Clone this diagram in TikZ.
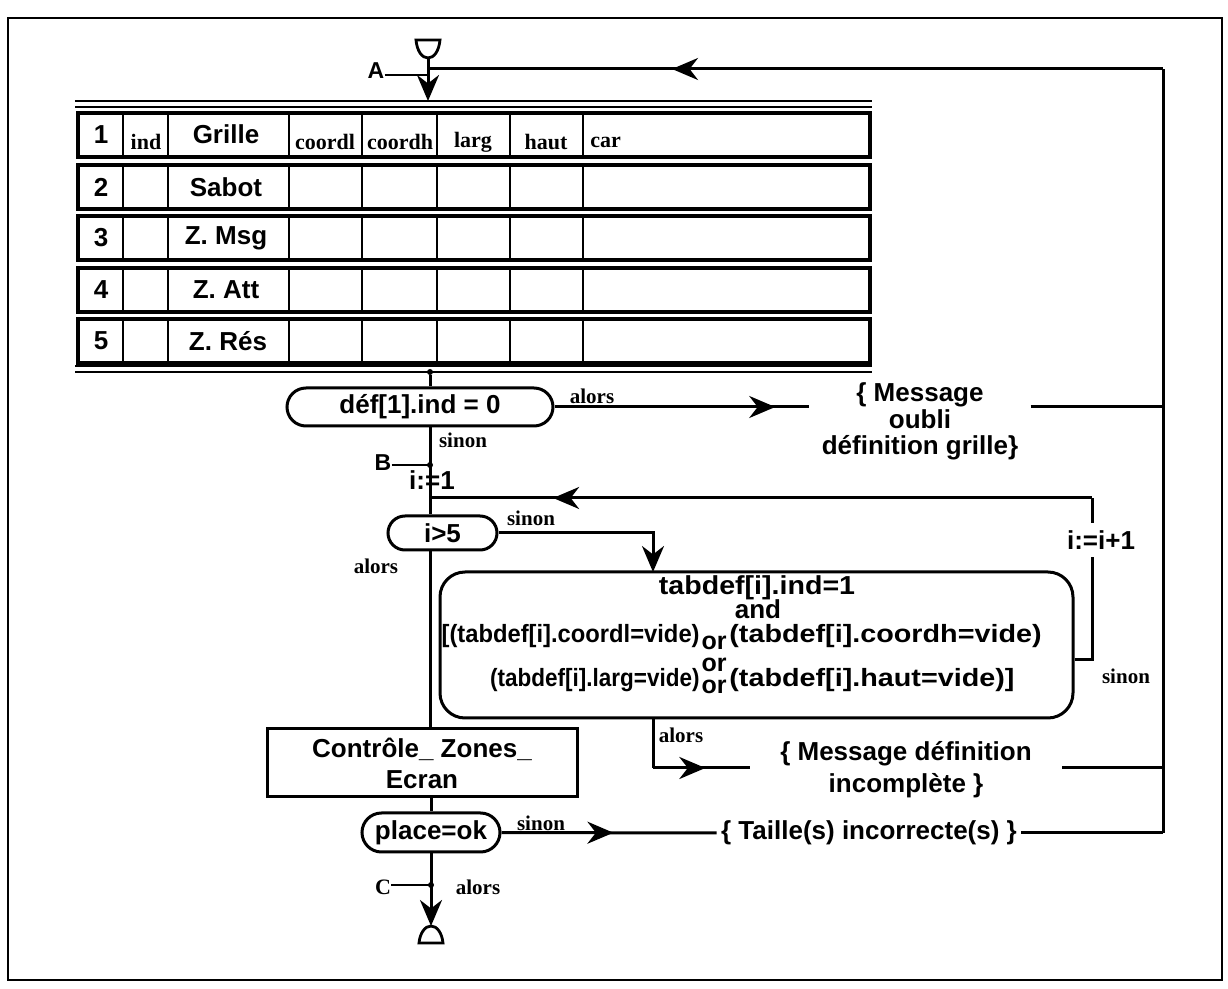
\documentclass[tikz,border=0pt]{standalone}
\usepackage{fontspec}
\usepackage{graphicx}
\setmainfont{Liberation Sans}
\newfontfamily\ser{Liberation Serif}
\usetikzlibrary{arrows.meta,decorations.markings,calc}
\begin{document}
\begin{tikzpicture}[x=0.5pt,y=-0.5pt,
  conn/.style={line width=1.5pt},
  thinl/.style={line width=1pt},
  lbl/.style={font=\ser\bfseries\fontsize{10.5}{12}\selectfont, inner sep=0pt},
  hdr/.style={font=\ser\bfseries\fontsize{11}{12}\selectfont, inner sep=0pt},
  txt/.style={font=\bfseries\fontsize{13}{13.25}\selectfont, inner sep=0pt, align=center},
  btxt/.style={font=\bfseries\fontsize{12.5}{14}\selectfont, inner sep=0pt},
  slab/.style={font=\bfseries\fontsize{11.5}{12}\selectfont, inner sep=0pt},
  stad/.style={draw, line width=1.5pt, inner sep=0pt, font=\bfseries\fontsize{13}{14}\selectfont},
  arrAt/.style={postaction={decorate}, decoration={markings, mark=at position #1 with {\arrow{Stealth[length=13pt,width=11pt]}}}},
  endarr/.style={-{Stealth[length=13pt,width=11pt]}},
  jdot/.style={circle, fill, inner sep=0pt, minimum size=3pt},
]
\useasboundingbox (0,0) rectangle (1228,989);
\fill[white] (0,0) rectangle (1228,989);
\draw[thinl] (8,18) rectangle (1222,980);

% start symbol
\draw[line width=1.4pt] (416,40) -- (440,40) .. controls (439,51) and (434,58) .. (428,58) .. controls (422,58) and (417,51) .. (416,40) -- cycle;
\coordinate (s0) at (428,58);
\coordinate (lpA) at (428,69);
\coordinate (aJ) at (428,75);
\coordinate (tT) at (428,101);

% table
\draw[line width=1.2pt] (75,101) -- (872,101);
\draw[line width=1.2pt] (75,107) -- (872,107);
\draw[line width=1.4pt] (75,366) -- (872,366);
\draw[line width=1.2pt] (75,372) -- (872,372);
\foreach \t in {113,165,216,268,319} {
  \draw[line width=2pt] (78,\t) rectangle (870,\t+44);
  \foreach \c in {123,168,289,362,437,510,583}
    \draw[line width=1.3pt] (\c,\t) -- (\c,\t+44);
}
\node[txt] (n1) at (101,135) {1};
\node[txt] (n2) at (101,187) {2};
\node[txt] (n3) at (101,238) {3};
\node[txt] (n4) at (101,290) {4};
\node[txt] (n5) at (101,341) {5};
\node[txt] (g1) at (226,134) {Grille};
\node[txt] (g2) at (226,187) {Sabot};
\node[txt] (g3) at (226,238) {Z. Msg};
\node[txt] (g4) at (226,290) {Z. Att};
\node[txt] (g5) at (228,341) {Z. Rés};
\node[hdr] (h1) at (146,142) {ind};
\node[hdr] (h2) at (325,142) {coordl};
\node[hdr] (h3) at (400,142) {coordh};
\node[hdr] (h4) at (473,142) {larg};
\node[hdr] (h5) at (546,142) {haut};
\node[hdr, anchor=west] (h6) at (590,142) {car};

% decisions and boxes
\node[stad, rounded corners=9.5pt, minimum width=133pt, minimum height=19pt] (d1) at (420,407) {déf[1].ind = 0};
\node[stad, rounded corners=8.5pt, minimum width=54.5pt, minimum height=17pt] (d2) at (442.5,533) {i>5};
\node[stad, rounded corners=9.75pt, minimum width=69pt, minimum height=19.5pt] (d3) at (431,832.5) {place=ok};
\node[draw, line width=1.5pt, rounded corners=12.5pt, minimum width=316.5pt, minimum height=73pt, inner sep=0pt] (bb) at (756.5,645) {};
\node[draw, line width=1.5pt, minimum width=155pt, minimum height=34pt, inner sep=0pt, font=\bfseries\fontsize{13}{15.5}\selectfont, align=center] (ctl) at (422,763) {Contrôle\_ Zones\_\\Ecran};

% big box text
\node[btxt, font=\bfseries\fontsize{13}{14}\selectfont] (bl1) at (757,588) {\scalebox{1.1}[1]{tabdef[i].ind=1}};
\node[btxt, font=\bfseries\fontsize{13}{14}\selectfont] (bl2) at (758,609) {and};
\node[btxt, anchor=east] (bl3a) at (700,636) {\scalebox{0.95}[1]{[(tabdef[i].coordl=vide)}};
\node[btxt, anchor=west] (bl3b) at (729,636) {\scalebox{1.15}[1]{(tabdef[i].coordh=vide)}};
\node[btxt, align=center, font=\bfseries\fontsize{12.5}{11}\selectfont] (bor) at (714,665) {or\\or\\or};
\node[btxt, anchor=east] (bl4a) at (700,680) {\scalebox{0.9}[1]{(tabdef[i].larg=vide)}};
\node[btxt, anchor=west] (bl4b) at (729,680) {\scalebox{1.15}[1]{(tabdef[i].haut=vide)]}};

% messages
\node[txt, inner xsep=6pt] (m1) at (920,421.5) {\{ Message\\oubli\\définition grille\}};
\node[txt, inner xsep=15pt, font=\bfseries\fontsize{13}{16}\selectfont] (m2) at (906,770) {\{ Message définition\\incomplète \}};
\node[txt, inner xsep=2pt] (t3) at (869,833) {\{ Taille(s) incorrecte(s) \}};

% right rail
\coordinate (rTop) at (1163,69);
\coordinate (rBot) at (1163,833);
\draw[conn] (rBot) -- (rTop);
\draw[conn, arrAt=0.668] (rTop) -- (lpA);

% entry
\draw[conn, endarr] (s0) -- (tT);
\node[slab] (A) at (376,71) {A};
\draw[thinl] (A.east |- aJ) -- (aJ);

% table to d1
\node[jdot] (tb) at (430,372) {};
\draw[conn] (tb) -- (tb |- d1.north);

% d1 alors
\coordinate (m1w) at (m1.west |- d1.east);
\draw[conn, arrAt=0.866] (d1.east) -- (m1w);
\draw[conn] (m1.east |- d1.east) -- (rTop |- d1.east);
\node[lbl, anchor=south] (al1) at (592,404) {alors};

% d1 sinon down
\coordinate (bJ) at (430,465);
\coordinate (lJ) at (430,498);
\draw[conn] (d1.south -| tb) -- (lJ) -- (lJ |- d2.north);
\node[lbl] (si1) at (463,440) {sinon};
\node[jdot] (bdot) at (bJ) {};
\node[slab] (B) at (383,463) {B};
\draw[thinl] (B.east |- bJ) -- (bJ);
\node[txt] (i1) at (432,480) {i:=1};

% loop
\coordinate (lR) at (1092,498);
\coordinate (lRb) at (1092,660);
\draw[conn] (bb.east |- lRb) -- (lRb) -- (lR);
\draw[conn, arrAt=0.814] (lR) -- (lJ);
\node[txt, fill=white, inner xsep=1pt, inner ysep=4pt] (inc) at (1101,540) {i:=i+1};
\node[lbl] (si3) at (1126,676) {sinon};

% i>5 sinon
\coordinate (bbIn) at (653,572);
\draw[conn, endarr] (d2.east) -| (bbIn);
\node[lbl] (si2) at (531,518) {sinon};
% i>5 alors
\draw[conn] (d2.south -| lJ) -- (lJ |- ctl.north);
\node[lbl] (al2) at (376,566) {alors};

% bb alors
\coordinate (bbOut) at (653,718);
\coordinate (m2c) at (653,768);
\draw[conn] (bbOut) -- (m2c);
\draw[conn, arrAt=0.54] (m2c) -- (m2.west |- m2c);
\draw[conn] (m2.east |- m2c) -- (rTop |- m2c);
\node[lbl] (al3) at (681,735) {alors};

% control to place=ok
\draw[conn] (ctl.south -| d3) -- (d3.north);

% place=ok sinon
\draw[conn, arrAt=0.52] (d3.east) -- (t3.west);
\draw[conn] (t3.east) -- (rBot);
\node[lbl, anchor=south] (si4) at (541,831) {sinon};

% end
\coordinate (e0) at (431,926);
\coordinate (cJ) at (431,885);
\draw[conn, endarr] (d3.south) -- (e0);
\draw[line width=1.4pt] (419,943) -- (443,943) .. controls (442,933) and (437,926) .. (431,926) .. controls (425,926) and (420,933) .. (419,943) -- cycle;
\node[jdot] (cdot) at (cJ) {};
\node[font=\ser\bfseries\fontsize{11}{12}\selectfont, inner sep=0pt] (C) at (383,887) {C};
\draw[thinl] (C.east |- cJ) -- (cJ);
\node[lbl] (al4) at (478,887) {alors};
\end{tikzpicture}
\end{document}
